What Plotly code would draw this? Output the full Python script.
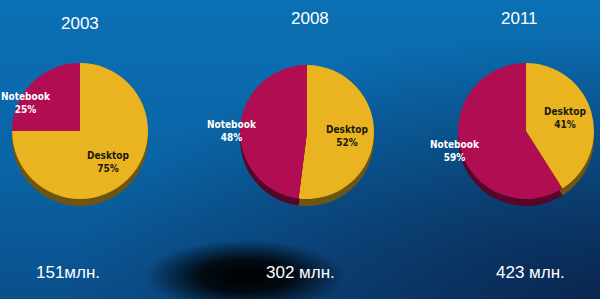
import base64
import plotly.graph_objects as go

years = ["2003", "2008", "2011"]
categories = ["Desktop", "Notebook"]
desktop_share = [75, 52, 41]
notebook_share = [25, 48, 59]
totals = ["151млн.", "302 млн.", "423 млн."]

W, H = 600, 299
centers = [(80, 131), (307, 132), (526, 131)]
radii = [68, 67, 68]
title_pos = [(80, 24), (310, 19), (519, 19)]
total_pos = [(68, 272), (300, 272), (530, 272)]
nb_label_pos = [(26, 103), (232, 131), (455, 151)]
dt_label_pos = [(108, 162), (347, 136), (565, 118)]

main_colors = ["#e9b41f", "#b00d52"]
shadow_colors = ["#6e5612", "#560628"]

svg = f"""<svg xmlns='http://www.w3.org/2000/svg' width='{W}' height='{H}'>
<defs>
<linearGradient id='v' x1='0' y1='0' x2='0' y2='1'>
<stop offset='0' stop-color='#0b70b4'/><stop offset='0.55' stop-color='#0a64a5'/><stop offset='1' stop-color='#0a4f8c'/></linearGradient>
<radialGradient id='br' cx='1' cy='1' r='0.9' gradientUnits='objectBoundingBox'>
<stop offset='0' stop-color='#0a1f45' stop-opacity='0.85'/><stop offset='1' stop-color='#0a1f45' stop-opacity='0'/></radialGradient>
<radialGradient id='blob' cx='0.5' cy='0.5' r='0.5'>
<stop offset='0' stop-color='#000000' stop-opacity='1'/><stop offset='0.45' stop-color='#000000' stop-opacity='0.85'/><stop offset='1' stop-color='#000000' stop-opacity='0'/></radialGradient>
</defs>
<rect width='{W}' height='{H}' fill='url(#v)'/>
<rect width='{W}' height='{H}' fill='url(#br)'/>
<ellipse cx='245' cy='276' rx='100' ry='36' fill='url(#blob)'/>
</svg>"""
bg = "data:image/svg+xml;base64," + base64.b64encode(svg.encode()).decode()

fig = go.Figure()

def dom(cx, cy, r, dy=0):
    return dict(x=[(cx - r) / W, (cx + r) / W],
                y=[1 - (cy + dy + r) / H, 1 - (cy + dy - r) / H])

for i in range(3):
    cx, cy = centers[i]
    r = radii[i]
    vals = [desktop_share[i], notebook_share[i]]
    fig.add_trace(go.Pie(labels=categories, values=vals, sort=False,
                         direction="clockwise", rotation=0,
                         marker=dict(colors=shadow_colors, line=dict(width=0)),
                         textinfo="none", hoverinfo="skip",
                         domain=dom(cx, cy, r, 7), showlegend=False))
    fig.add_trace(go.Pie(labels=categories, values=vals, sort=False,
                         direction="clockwise", rotation=0,
                         marker=dict(colors=main_colors, line=dict(width=0)),
                         textinfo="none",
                         domain=dom(cx, cy, r), showlegend=False))

def ann(x, y, text, font):
    return dict(x=x / W, y=1 - y / H, xref="paper", yref="paper",
                xanchor="center", yanchor="middle",
                text=text, showarrow=False, font=font)

big = dict(family="Liberation Sans, Arial", size=17, color="white")
annotations = []
for i in range(3):
    annotations.append(ann(*title_pos[i], years[i], big))
    annotations.append(ann(*total_pos[i], totals[i], big))
    annotations.append(ann(*nb_label_pos[i], f"{categories[1]}<br>{notebook_share[i]}%",
                           dict(family="DejaVu Sans Condensed, DejaVu Sans", size=10,
                                color="white", weight="bold")))
    annotations.append(ann(*dt_label_pos[i], f"{categories[0]}<br>{desktop_share[i]}%",
                           dict(family="DejaVu Sans Condensed, DejaVu Sans", size=10,
                                color="#1a1a10", weight="bold")))

fig.update_layout(
    width=W, height=H,
    margin=dict(l=0, r=0, t=0, b=0),
    paper_bgcolor="#0a64a5",
    plot_bgcolor="rgba(0,0,0,0)",
    images=[dict(source=bg, xref="paper", yref="paper", x=0, y=1,
                 sizex=1, sizey=1, sizing="stretch", layer="below",
                 xanchor="left", yanchor="top")],
    annotations=annotations,
)

fig.write_html("out.html")
